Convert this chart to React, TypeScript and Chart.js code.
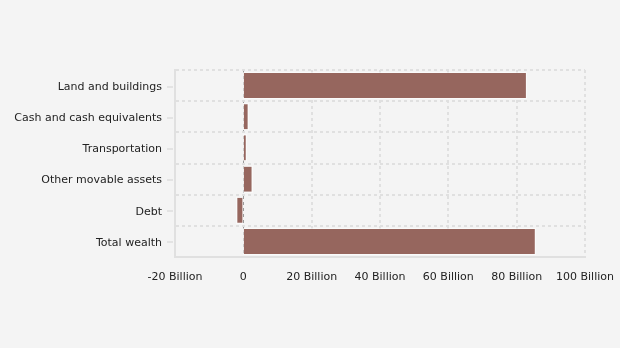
import React, { useEffect, useRef } from "react";
import { Chart, registerables } from "chart.js";

Chart.register(...registerables);

const categories = [
  "Land and buildings",
  "Cash and cash equivalents",
  "Transportation",
  "Other movable assets",
  "Debt",
  "Total wealth",
];
const values = [82.7e9, 1.25e9, 0.7e9, 2.4e9, -1.75e9, 85.3e9];
const xMin = -20e9;
const xMax = 100e9;
const xStep = 20e9;

const centerTicks = {
  id: "centerTicks",
  afterDraw(chart: any) {
    const y = chart.scales.y;
    const ctx = chart.ctx;
    ctx.save();
    ctx.strokeStyle = "#dedede";
    ctx.lineWidth = 1.5;
    y.ticks.forEach((_t: any, i: number) => {
      const py = Math.round(y.getPixelForTick(i)) + 1;
      ctx.beginPath();
      ctx.moveTo(y.right - 8, py);
      ctx.lineTo(y.right - 2, py);
      ctx.stroke();
    });
    ctx.restore();
  },
};

const barOutline = {
  id: "barOutline",
  afterDatasetsDraw(chart: any) {
    const ctx = chart.ctx;
    const meta = chart.getDatasetMeta(0);
    ctx.save();
    ctx.strokeStyle = "rgba(255,255,255,0.5)";
    ctx.lineWidth = 1;
    meta.data.forEach((el: any) => {
      const { x, y, base, height } = el.getProps(["x", "y", "base", "height"], true);
      const l = Math.min(x, base);
      const r = Math.max(x, base);
      ctx.strokeRect(Math.round(l) - 0.5, Math.round(y - height / 2) - 0.5, Math.round(r - l) + 1, Math.round(height) + 1);
    });
    ctx.restore();
  },
};

export default function App() {
  const ref = useRef<HTMLCanvasElement>(null);
  useEffect(() => {
    document.body.style.margin = "0";
    document.body.style.background = "#f4f4f4";
    const chart = new Chart(ref.current!, {
      type: "bar",
      data: {
        labels: categories,
        datasets: [
          {
            data: values,
            backgroundColor: "#96665e",
            borderWidth: 0,
            barPercentage: 0.8,
            categoryPercentage: 1,
          },
        ],
      },
      options: {
        indexAxis: "y",
        animation: false,
        responsive: false,
        maintainAspectRatio: false,
        layout: { padding: { top: 70, right: 35, bottom: 0, left: 0 } },
        plugins: { legend: { display: false }, tooltip: { enabled: false } },
        scales: {
          x: {
            min: xMin,
            max: xMax,
            afterFit: (s: any) => {
              s.height = 91;
            },
            ticks: {
              stepSize: xStep,
              color: "#222",
              font: { family: "DejaVu Sans", size: 11 },
              padding: 3.5,
              callback: (v: any) => (v === 0 ? "0" : v / 1e9 + " Billion"),
            },
            grid: {
              drawTicks: true,
              tickLength: 10,
              tickColor: "rgba(0,0,0,0)",
              color: (c: any) => (c.tick && c.tick.value === 0 ? "#9a9a9a" : "#e0e0e0"),
              lineWidth: (c: any) => (c.tick && c.tick.value === 0 ? 1 : 2),
            },
            border: { display: true, dash: [3, 3], color: "#e0e0e0", width: 2 },
          },
          y: {
            afterFit: (s: any) => {
              s.width = 175;
            },
            ticks: {
              color: "#222",
              font: { family: "DejaVu Sans", size: 11 },
              padding: 13,
              labelOffset: 1.5,
            },
            grid: {
              drawTicks: false,
              color: "#e0e0e0",
              lineWidth: 2,
              offset: true,
            },
            border: { display: true, dash: [3, 3], color: "#e0e0e0", width: 2 },
          },
        },
      } as any,
      plugins: [centerTicks, barOutline],
    });
    return () => chart.destroy();
  }, []);
  return (
    <div style={{ width: 620, height: 348, background: "#f4f4f4" }}>
      <canvas ref={ref} width={620} height={348} style={{ display: "block" }} />
    </div>
  );
}
